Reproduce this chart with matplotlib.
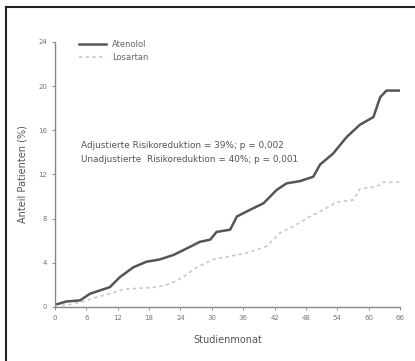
import matplotlib
matplotlib.use("Agg")
import matplotlib.pyplot as plt
from matplotlib.lines import Line2D

# Data
aten_x = [0, 2.2, 4.8, 6.7, 8.6, 10.5, 12.4, 15, 17.5, 20, 22.6, 25.2, 27.7, 29.7, 30.9, 33.5, 34.8,
          37.3, 39.9, 42.4, 44.3, 46.9, 49.4, 50.7, 53.2, 55.8, 58.3, 60.9, 62.2, 63.4, 66]
aten_y = [0.2, 0.5, 0.6, 1.2, 1.5, 1.8, 2.7, 3.6, 4.1, 4.3, 4.7, 5.3, 5.9, 6.1, 6.8, 7.0, 8.2,
          8.8, 9.4, 10.6, 11.2, 11.4, 11.8, 12.9, 13.9, 15.4, 16.5, 17.2, 19.0, 19.6, 19.6]
los_x = [0, 2.6, 5.4, 8, 10.5, 13.1, 16.3, 19.5, 22, 24.5, 27.1, 30.3, 33.5, 36.7, 40.5, 43, 45.6,
         48.8, 51.3, 53.9, 57.1, 58.3, 61.5, 62.8, 66]
los_y = [0.1, 0.2, 0.5, 0.9, 1.2, 1.6, 1.7, 1.8, 2.1, 2.7, 3.6, 4.3, 4.6, 4.9, 5.5, 6.7, 7.3,
         8.2, 8.8, 9.5, 9.7, 10.7, 10.9, 11.3, 11.3]
x_ticks = list(range(0, 67, 6))
y_ticks = [0, 4, 8, 12, 16, 20, 24]
series_names = ["Atenolol", "Losartan"]
annot_lines = ["Adjustierte Risikoreduktion = 39%; p = 0,002",
               "Unadjustierte  Risikoreduktion = 40%; p = 0,001"]

plt.rcParams['font.family'] = ['DejaVu Sans']
fig = plt.figure(figsize=(4.15, 3.61), dpi=100)
ax = fig.add_axes([0.1325, 0.1496, 0.964 - 0.1325, 0.8837 - 0.1496])

ax.plot(aten_x, aten_y, color="#555555", lw=1.8, label=series_names[0])
ax.plot(los_x, los_y, color="#c8c8c8", lw=1.2, ls=(0, (2, 2)), label=series_names[1])

ax.set_xlim(0, 66)
ax.set_ylim(0, 24)
ax.set_xticks(x_ticks)
ax.set_yticks(y_ticks)
ax.tick_params(labelsize=5, colors="#777777", length=2, width=0.6, direction="out")
for s in ["top", "right"]:
    ax.spines[s].set_visible(False)
for s in ["left", "bottom"]:
    ax.spines[s].set_color("#888888")
    ax.spines[s].set_linewidth(1.0)

ax.set_xlabel("Studienmonat", fontsize=7, color="#555555", labelpad=10)
ax.set_ylabel("Anteil Patienten (%)", fontsize=7, color="#555555", labelpad=8)

leg = ax.legend(loc="upper left", bbox_to_anchor=(0.06, 1.02), frameon=False, fontsize=6,
                handlelength=3.2, labelcolor="#666666", borderaxespad=0)

ax.text(0.075, 0.625, annot_lines[0] + "\n" + annot_lines[1], transform=ax.transAxes,
        fontsize=6.4, color="#555555", va="top", ha="left", linespacing=1.6)

# partial frame: left and top border
fig.add_artist(Line2D([6 / 415, 6 / 415], [0, 1 - 7 / 361], color="#222222", lw=1.5, transform=fig.transFigure))
fig.add_artist(Line2D([6 / 415, 1], [1 - 7 / 361, 1 - 7 / 361], color="#222222", lw=1.5, transform=fig.transFigure))

fig.savefig("out.png", dpi=100)
